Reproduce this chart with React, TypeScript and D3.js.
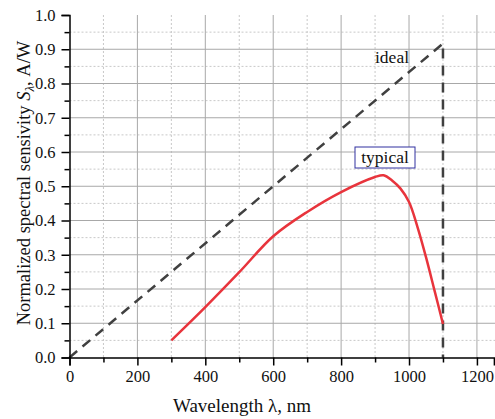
import React, { useRef, useEffect } from 'react';
import * as d3 from 'd3';

// typical curve
const wavelengths = [300, 400, 500, 600, 700, 800, 900, 925, 950, 975, 1000, 1025, 1050, 1075, 1100];
const typical = [0.05, 0.147, 0.249, 0.354, 0.425, 0.483, 0.527, 0.532, 0.517, 0.493, 0.454, 0.381, 0.293, 0.196, 0.098];
// ideal response: straight line up to the cutoff, then drops
const idealX = [0, 1100, 1100];
const idealY = [0, 0.9167, 0];
const xTicks = [0, 200, 400, 600, 800, 1000, 1200];
const yTicks = [0, 0.1, 0.2, 0.3, 0.4, 0.5, 0.6, 0.7, 0.8, 0.9, 1.0];

const W = 495, H = 419;
const FONT = "'Liberation Serif', 'Times New Roman', Times, serif";

export default function App() {
  const svgRef = useRef<SVGSVGElement>(null);

  useEffect(() => {
    const svg = d3.select(svgRef.current);
    svg.selectAll('*').remove();

    const x = d3.scaleLinear().domain([0, 1250]).range([69.5, 493.9]);
    const y = d3.scaleLinear().domain([0, 1]).range([357.5, 15]);

    const grid = svg.append('g');
    // minor grid (dotted)
    d3.range(100, 1200, 200).forEach(v => {
      grid.append('line').attr('x1', x(v)).attr('x2', x(v)).attr('y1', y(1)).attr('y2', y(0))
        .attr('stroke', '#c8c8c8').attr('stroke-dasharray', '2,2');
    });
    d3.range(0.05, 1, 0.1).forEach(v => {
      grid.append('line').attr('x1', x(0)).attr('x2', W).attr('y1', y(v)).attr('y2', y(v))
        .attr('stroke', '#c8c8c8').attr('stroke-dasharray', '2,2');
    });
    // major grid
    xTicks.slice(1).forEach(v => {
      grid.append('line').attr('x1', x(v)).attr('x2', x(v)).attr('y1', y(1)).attr('y2', y(0))
        .attr('stroke', '#a8a8a8');
    });
    yTicks.slice(1, -1).forEach(v => {
      grid.append('line').attr('x1', x(0)).attr('x2', W).attr('y1', y(v)).attr('y2', y(v))
        .attr('stroke', '#a8a8a8');
    });

    // ideal dashed line
    const idealLine = d3.line<number>().x((d, i) => x(idealX[i])).y(d => y(d));
    svg.append('path').attr('d', idealLine(idealY))
      .attr('fill', 'none').attr('stroke', '#404040').attr('stroke-width', 2.5)
      .attr('stroke-dasharray', '10,7');

    // typical curve
    const typLine = d3.line<number>().x((d, i) => x(wavelengths[i])).y(d => y(d))
      .curve(d3.curveCatmullRom);
    svg.append('path').attr('d', typLine(typical))
      .attr('fill', 'none').attr('stroke', '#e8343c').attr('stroke-width', 2.5);

    // axes
    const xAxis = svg.append('g').attr('transform', `translate(0,${y(0)})`)
      .call(d3.axisBottom(x).tickValues(xTicks).tickSize(8).tickPadding(5).tickFormat(d3.format('d')));
    svg.append('g').attr('transform', `translate(0,${y(0)})`)
      .call(d3.axisBottom(x).tickValues(d3.range(100, 1250, 200)).tickSize(5).tickFormat(() => ''))
      .select('.domain').remove();
    const yAxis = svg.append('g').attr('transform', `translate(${x(0)},0)`)
      .call(d3.axisLeft(y).tickValues(yTicks).tickSize(8).tickPadding(6).tickFormat(d3.format('.1f')));
    svg.append('g').attr('transform', `translate(${x(0)},0)`)
      .call(d3.axisLeft(y).tickValues(d3.range(0.05, 1, 0.1)).tickSize(5).tickFormat(() => ''))
      .select('.domain').remove();

    svg.selectAll('.domain').attr('stroke', '#000').attr('stroke-width', 1.5);
    svg.selectAll('.tick line').attr('stroke', '#000').attr('stroke-width', 1.5);
    [xAxis, yAxis].forEach(a => a.selectAll('text')
      .style('font-family', FONT).style('font-size', '16.5px').attr('fill', '#111'));

    // axis titles
    svg.append('text').attr('x', 242).attr('y', 412).attr('text-anchor', 'middle')
      .style('font-family', FONT).style('font-size', '19px').attr('fill', '#111')
      .text('Wavelength λ, nm');
    const yt = svg.append('text').attr('transform', `translate(30,183) rotate(-90)`)
      .attr('text-anchor', 'middle').style('font-family', FONT).style('font-size', '18.5px').attr('fill', '#111');
    yt.append('tspan').text('Normalized spectral sensivity ');
    yt.append('tspan').style('font-style', 'italic').text('S');
    yt.append('tspan').style('font-style', 'italic').style('font-size', '13px').attr('dy', 4).text('λ');
    yt.append('tspan').attr('dy', -4).text(', A/W');

    // annotations
    svg.append('text').attr('x', 375).attr('y', 63).style('font-family', FONT).style('font-size', '17.5px')
      .attr('fill', '#111').text('ideal');
    svg.append('rect').attr('x', 355).attr('y', 147).attr('width', 60).attr('height', 21)
      .attr('fill', '#fff').attr('stroke', '#3030a0').attr('stroke-width', 1);
    svg.append('text').attr('x', 385).attr('y', 163).attr('text-anchor', 'middle')
      .style('font-family', FONT).style('font-size', '17.5px').attr('fill', '#111').text('typical');
  }, []);

  return (
    <svg ref={svgRef} width={W} height={H}
      style={{ position: 'absolute', left: 0, top: 0, background: '#fff' }} />
  );
}
